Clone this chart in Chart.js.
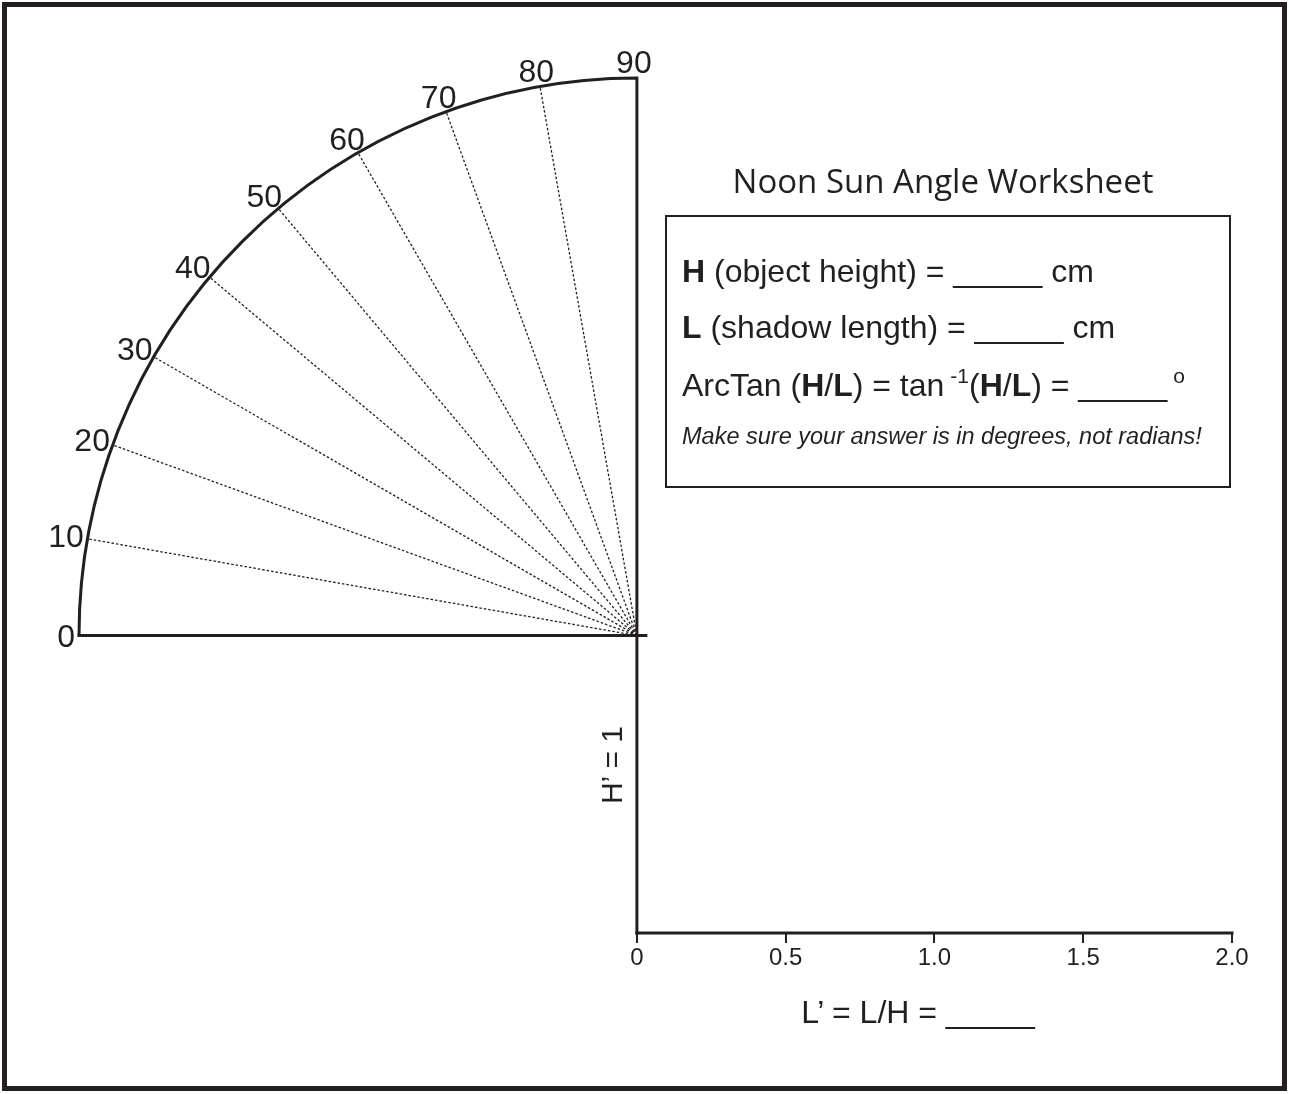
<!DOCTYPE html>
<html>
<head>
<meta charset="utf-8">
<script src="https://cdn.jsdelivr.net/npm/chart.js@4.4.1/dist/chart.umd.min.js"></script>
<style>
  html, body { margin: 0; padding: 0; background: #fff; }
  #wrap { position: relative; width: 1289px; height: 1094px; overflow: hidden; }
  #sheet { position: absolute; left: 0; top: 0; }
  .frame { position: absolute; left: 2px; top: 2px; width: 1285px; height: 1089px;
           box-sizing: border-box; border: 5px solid #231f20; pointer-events: none; }
  .t { position: absolute; color: #231f20; font-family: "Liberation Sans", Arial, sans-serif;
       white-space: nowrap; line-height: 1; }
  .title { font-family: "Open Sans", "Noto Sans", sans-serif; font-size: 33px; left: 0; width: 1886px;
           text-align: center; top: 164px; }
  .box { position: absolute; left: 665px; top: 215px; width: 566px; height: 273px;
         box-sizing: border-box; border: 2px solid #231f20; }
  .row { font-size: 32px; left: 682px; }
  .row sup { font-size: 21px; position: relative; top: -4px; vertical-align: top; margin-left: 6px; }
  .note { font-size: 23.5px; font-style: italic; left: 682px; }
  .hprime { font-size: 30px; left: 612px; top: 765px; transform: translate(-50%, -50%) rotate(-90deg); }
  .lprime { font-size: 32px; left: 0; width: 1836px; text-align: center; top: 996px; }
</style>
</head>
<body>
<div id="wrap">
  <canvas id="sheet" width="1289" height="1094"></canvas>
  <div class="frame"></div>
  <div class="t title">Noon Sun Angle Worksheet</div>
  <div class="box"></div>
  <div class="t row" style="top:255px"><b>H</b> (object height) = _____ cm</div>
  <div class="t row" style="top:311px"><b>L</b> (shadow length) = _____ cm</div>
  <div class="t row" style="top:369px">ArcTan (<b>H</b>/<b>L</b>) = tan<sup>-1</sup>(<b>H</b>/<b>L</b>) = _____<sup>o</sup></div>
  <div class="t note" style="top:425px">Make sure your answer is in degrees, not radians!</div>
  <div class="t hprime">H’ = 1</div>
  <div class="t lprime">L’ = L/H = _____</div>
</div>
<script>
const ink = '#231f20';

// protractor: labelled angles and the dashed rays between them
const angleTicks = [0, 10, 20, 30, 40, 50, 60, 70, 80, 90];
const rayAngles = [10, 20, 30, 40, 50, 60, 70, 80];
const arcRadius = 1.875; // in L' units, centre at (0, 1)

// L' axis
const xTickValues = [0, 0.5, 1, 1.5, 2];
const xTickLabels = ['0', '0.5', '1.0', '1.5', '2.0'];

const baseLine = [{ x: -arcRadius, y: 1 }, { x: 0.03, y: 1 }];
const heightLine = [{ x: 0, y: 0 }, { x: 0, y: 1 }];
const lengthLine = [{ x: 0, y: 0 }, { x: 2, y: 0 }];

const protractor = {
  id: 'protractor',
  afterDatasetsDraw(chart) {
    const { ctx, scales: { x, y } } = chart;
    const cx = x.getPixelForValue(0);
    const cy = y.getPixelForValue(1);
    const rx = cx - x.getPixelForValue(-arcRadius);
    const ry = cy - y.getPixelForValue(1 + arcRadius);

    ctx.save();
    ctx.strokeStyle = ink;

    // dashed rays
    ctx.lineWidth = 1.3;
    ctx.setLineDash([2.5, 2]);
    rayAngles.forEach(function (a) {
      const r = a * Math.PI / 180;
      ctx.beginPath();
      ctx.moveTo(cx, cy);
      ctx.lineTo(cx - rx * Math.cos(r), cy - ry * Math.sin(r));
      ctx.stroke();
    });
    ctx.setLineDash([]);

    // quarter circle
    ctx.lineWidth = 3;
    ctx.beginPath();
    ctx.ellipse(cx, cy, rx, ry, 0, Math.PI, Math.PI * 1.5);
    ctx.lineTo(cx, cy);
    ctx.stroke();

    // angle labels, sitting just outside the arc
    const size = 32;
    ctx.fillStyle = ink;
    ctx.font = size + 'px "Liberation Sans", Arial, sans-serif';
    ctx.textAlign = 'center';
    ctx.textBaseline = 'alphabetic';
    const cap = size * 0.716;
    angleTicks.forEach(function (a) {
      const r = a * Math.PI / 180;
      const label = String(a);
      const w = ctx.measureText(label).width;
      const px = cx - rx * Math.cos(r) - (w / 2 + 4) * Math.cos(r) - (a === 90 ? 3 : 0);
      const py = cy - ry * Math.sin(r) - (cap / 2 + 5) * Math.sin(r);
      ctx.fillText(label, px, py + cap / 2);
    });
    ctx.restore();
  }
};

function segment(points, width) {
  return {
    data: points,
    borderColor: ink,
    borderWidth: width,
    pointRadius: 0,
    fill: false,
    tension: 0,
    clip: false,
    borderCapStyle: 'square',
  };
}

new Chart(document.getElementById('sheet'), {
  type: 'line',
  data: {
    datasets: [
      segment(baseLine, 3),
      segment(heightLine, 3),
      segment(lengthLine, 3),
    ],
  },
  options: {
    responsive: false,
    animation: false,
    devicePixelRatio: 1,
    layout: {
      padding: { left: 79, right: 57, top: 78, bottom: 121 },
    },
    plugins: {
      legend: { display: false },
      tooltip: { enabled: false },
    },
    scales: {
      x: {
        type: 'linear',
        min: -arcRadius,
        max: 2,
        border: { display: false },
        grid: {
          drawOnChartArea: false,
          drawTicks: true,
          tickLength: 10,
          color: ink,
          lineWidth: 2,
        },
        afterBuildTicks: function (scale) {
          scale.ticks = xTickValues.map(function (v) { return { value: v }; });
        },
        afterFit: function (scale) {
          scale.height = 40;
        },
        ticks: {
          color: ink,
          padding: 1,
          font: { family: '"Liberation Sans", Arial, sans-serif', size: 24 },
          callback: function (value, index) {
            return xTickLabels[index];
          },
        },
      },
      y: {
        type: 'linear',
        display: false,
        min: 0,
        max: 1 + arcRadius,
      },
    },
  },
  plugins: [protractor],
});
</script>
</body>
</html>
